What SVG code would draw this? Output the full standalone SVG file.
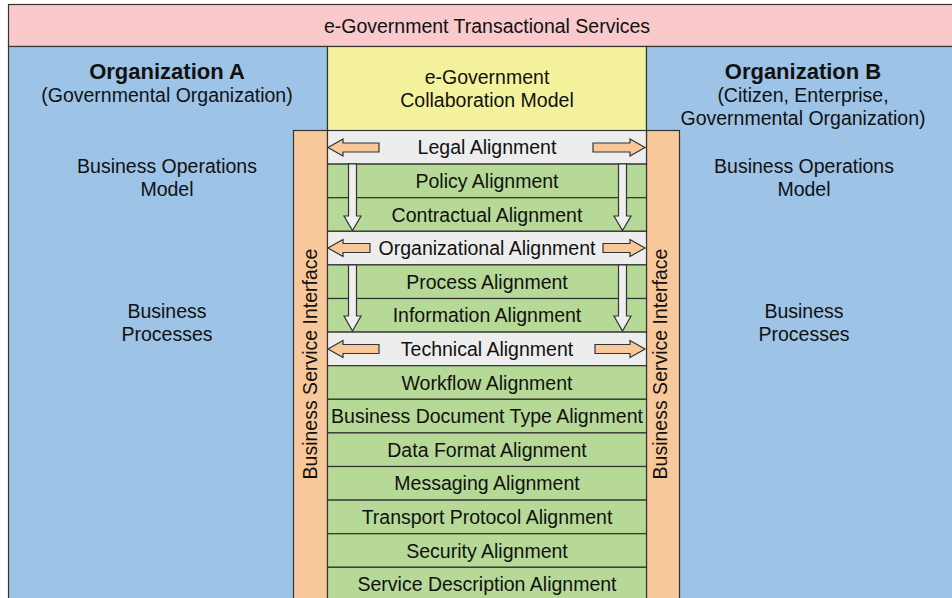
<svg xmlns="http://www.w3.org/2000/svg" width="952" height="598" viewBox="0 0 952 598">
<style>
text{font-family:"Liberation Sans",Arial,sans-serif;font-size:19.5px;fill:#111;text-anchor:middle}
.b{font-weight:bold;font-size:22px}
.ln{stroke:#333;stroke-width:1.2}
.gray{fill:#EDEDED;stroke:#333;stroke-width:1.2}
.green{fill:#B6D998;stroke:#333;stroke-width:1.2}
.harrow{fill:#F9C89A;stroke:#333;stroke-width:1.2}
.varrow{fill:#EEEEEE;stroke:#333;stroke-width:1.2}
</style>
<rect width="952" height="598" fill="#ffffff"/>
<g id="top">
<rect x="8.5" y="4.5" width="950" height="42" fill="#F9C9CB" class="ln"/>
<text x="487" y="32.5">e-Government Transactional Services</text>
</g>
<g id="orgA">
<rect x="8.5" y="46.5" width="319" height="560" fill="#9DC3E7" class="ln"/>
<text class="b" x="167" y="79">Organization A</text>
<text x="167" y="102">(Governmental Organization)</text>
<text x="167" y="172.7">Business Operations</text>
<text x="167" y="196">Model</text>
<text x="167" y="318.3">Business</text>
<text x="167" y="341">Processes</text>
</g>
<g id="collab">
<rect x="327.5" y="46.5" width="319" height="560" fill="#F4F29D" class="ln"/>
<text x="487" y="84">e-Government</text>
<text x="487" y="106.7">Collaboration Model</text>
</g>
<g id="orgB">
<rect x="646.5" y="46.5" width="310" height="560" fill="#9DC3E7" class="ln"/>
<text class="b" x="803" y="79">Organization B</text>
<text x="803" y="101.7">(Citizen, Enterprise,</text>
<text x="803" y="125">Governmental Organization)</text>
<text x="804" y="172.7">Business Operations</text>
<text x="804" y="196">Model</text>
<text x="804" y="318.3">Business</text>
<text x="804" y="341">Processes</text>
</g>
<g id="bsiA">
<rect x="293.5" y="130.5" width="34" height="480" fill="#F9C89A" class="ln"/>
<text transform="translate(317,364) rotate(-90)">Business Service Interface</text>
</g>
<g id="bsiB">
<rect x="646.5" y="130.5" width="33" height="480" fill="#F9C89A" class="ln"/>
<text transform="translate(667,364) rotate(-90)">Business Service Interface</text>
</g>
<g id="rows">
<rect class="gray" x="327.5" y="130.5" width="319" height="33.6"/>
<rect class="green" x="327.5" y="164.1" width="319" height="33.6"/>
<rect class="green" x="327.5" y="197.7" width="319" height="33.6"/>
<rect class="gray" x="327.5" y="231.3" width="319" height="33.6"/>
<rect class="green" x="327.5" y="264.9" width="319" height="33.6"/>
<rect class="green" x="327.5" y="298.5" width="319" height="33.6"/>
<rect class="gray" x="327.5" y="332.1" width="319" height="33.6"/>
<rect class="green" x="327.5" y="365.7" width="319" height="33.6"/>
<rect class="green" x="327.5" y="399.3" width="319" height="33.6"/>
<rect class="green" x="327.5" y="432.9" width="319" height="33.6"/>
<rect class="green" x="327.5" y="466.5" width="319" height="33.6"/>
<rect class="green" x="327.5" y="500.1" width="319" height="33.6"/>
<rect class="green" x="327.5" y="533.7" width="319" height="33.6"/>
<rect class="green" x="327.5" y="567.3" width="319" height="40"/>
<text x="487" y="154.3">Legal Alignment</text>
<text x="487" y="187.9">Policy Alignment</text>
<text x="487" y="221.5">Contractual Alignment</text>
<text x="487" y="255.1">Organizational Alignment</text>
<text x="487" y="288.7">Process Alignment</text>
<text x="487" y="322.3">Information Alignment</text>
<text x="487" y="355.9">Technical Alignment</text>
<text x="487" y="389.5">Workflow Alignment</text>
<text x="487" y="423.1">Business Document Type Alignment</text>
<text x="487" y="456.7">Data Format Alignment</text>
<text x="487" y="490.3">Messaging Alignment</text>
<text x="487" y="523.9">Transport Protocol Alignment</text>
<text x="487" y="557.5">Security Alignment</text>
<text x="487" y="591.1">Service Description Alignment</text>
</g>
<g id="connectors">
<!-- Legal row horizontal arrows, center y 147.5 -->
<path class="harrow" d="M379,143 L343,143 L343,139 L328,147.5 L343,156 L343,152 L379,152 Z"/>
<path class="harrow" d="M593,143 L630,143 L630,139 L645,147.5 L630,156 L630,152 L593,152 Z"/>
<!-- Organizational row, center y 248 -->
<path class="harrow" d="M370,243.5 L343,243.5 L343,239.5 L328,248 L343,256.5 L343,252.5 L370,252.5 Z"/>
<path class="harrow" d="M603,243.5 L630,243.5 L630,239.5 L645,248 L630,256.5 L630,252.5 L603,252.5 Z"/>
<!-- Technical row, center y 349 -->
<path class="harrow" d="M379,344.5 L343,344.5 L343,340.5 L328,349 L343,357.5 L343,353.5 L379,353.5 Z"/>
<path class="harrow" d="M595,344.5 L630,344.5 L630,340.5 L645,349 L630,357.5 L630,353.5 L595,353.5 Z"/>
<!-- vertical arrows -->
<path class="varrow" d="M348.5,164 L348.5,216 L344,216 L352.5,230.5 L361,216 L356.5,216 L356.5,164 Z"/>
<path class="varrow" d="M618.5,164 L618.5,216 L614,216 L622.5,230.5 L631,216 L626.5,216 L626.5,164 Z"/>
<path class="varrow" d="M348.5,265 L348.5,316 L344,316 L352.5,331 L361,316 L356.5,316 L356.5,265 Z"/>
<path class="varrow" d="M618.5,265 L618.5,316 L614,316 L622.5,331 L631,316 L626.5,316 L626.5,265 Z"/>
</g>
</svg>
